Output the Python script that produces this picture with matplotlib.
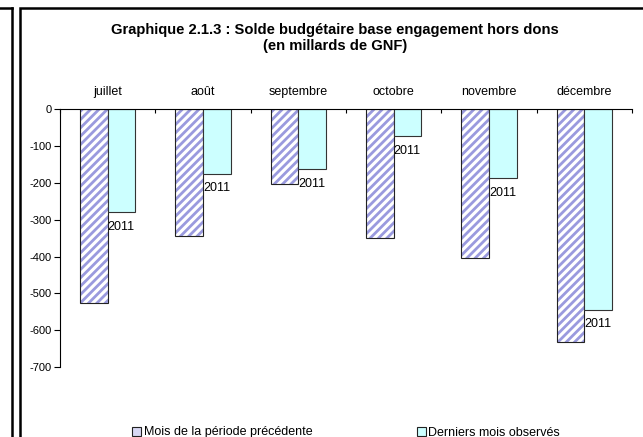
import matplotlib
matplotlib.use("Agg")
import matplotlib.pyplot as plt
import matplotlib.patches as mpatches
import numpy as np

plt.rcParams['font.family'] = ['Liberation Sans', 'DejaVu Sans']
plt.rcParams['hatch.linewidth'] = 2.0

months = ["juillet", "août", "septembre", "octobre", "novembre", "décembre"]
prev_period = [-525, -345, -203, -350, -405, -633]
last_obs = [-280, -175, -162, -72, -186, -544]
bar_label = "2011"
yticks = [0, -100, -200, -300, -400, -500, -600, -700]

W, H = 643, 437
fig = plt.figure(figsize=(W / 100, H / 100), dpi=100)

# frames
fig.add_artist(mpatches.Rectangle((20 / W, -0.1), 1.2, 1 - 8 / H + 0.1,
                                  transform=fig.transFigure, fill=False,
                                  edgecolor="black", linewidth=1.8))
fig.add_artist(plt.Line2D([12 / W, 12 / W], [0, 1 - 8 / H], transform=fig.transFigure,
                          color="black", linewidth=1.8))
fig.add_artist(plt.Line2D([0, 12 / W], [1 - 8 / H, 1 - 8 / H], transform=fig.transFigure,
                          color="black", linewidth=1.8))

ax = fig.add_axes([60 / W, 1 - 367 / H, (632 - 60) / W, (367 - 109.5) / H])
x = np.arange(len(months))
bw = 0.29
hatch_col = "#9a9ade"
ax.bar(x - bw / 2, prev_period, bw, color="white", edgecolor=hatch_col, hatch="////",
       linewidth=0)
ax.bar(x - bw / 2, prev_period, bw, facecolor="none", edgecolor="#222222", linewidth=0.8)
ax.bar(x + bw / 2, last_obs, bw, color="#ccffff", edgecolor="#333333", linewidth=0.8)

for xi, v in zip(x, last_obs):
    ax.annotate(bar_label, (xi, v), xytext=(0, -10.5), textcoords="offset points",
                ha="left", va="center", fontsize=9)

ax.set_xlim(-0.5, len(months) - 0.5)
ax.set_ylim(-700, 0)
ax.set_yticks(yticks)
ax.set_yticklabels([str(t) for t in yticks], fontsize=8)
ax.tick_params(axis="y", direction="out", length=4, width=0.8, pad=2)
ax.set_xticks(np.arange(len(months) + 1) - 0.5)
ax.set_xticklabels([])
for xi, m in zip(x, months):
    ax.text(xi, 1 + 17 / 257.5, m, ha="center", va="center", fontsize=9,
            transform=ax.get_xaxis_transform(), clip_on=False)
ax.spines["right"].set_visible(False)
ax.spines["bottom"].set_visible(False)
ax.spines["top"].set_visible(False)
ax.axhline(0, color="black", linewidth=0.8, clip_on=False)
ax.xaxis.set_ticks_position("top")
ax.tick_params(axis="x", direction="in", length=3, width=0.8, top=True, bottom=False,
               labeltop=False)
ax.patch.set_alpha(0)

fig.text(335 / W, 1 - 30 / H, "Graphique 2.1.3 : Solde budgétaire base engagement hors dons",
         ha="center", va="center", fontsize=10.6, fontweight="bold")
fig.text(335 / W, 1 - 46 / H, "(en millards de GNF)",
         ha="center", va="center", fontsize=10.6, fontweight="bold")

h1 = mpatches.Patch(facecolor="#d8d8f4", edgecolor="#222222", linewidth=0.8)
h2 = mpatches.Patch(facecolor="#ccffff", edgecolor="#222222", linewidth=0.8)
kw = dict(frameon=False, fontsize=9, handlelength=0.7, handleheight=0.7,
          handletextpad=0.2, borderpad=0, loc="center left")
fig.legend([h1], ["Mois de la période précédente"], bbox_to_anchor=(126 / W, 1 - 432.5 / H), **kw)
fig.legend([h2], ["Derniers mois observés"], bbox_to_anchor=(411 / W, 1 - 432.5 / H), **kw)

fig.savefig("out.png", dpi=100)
